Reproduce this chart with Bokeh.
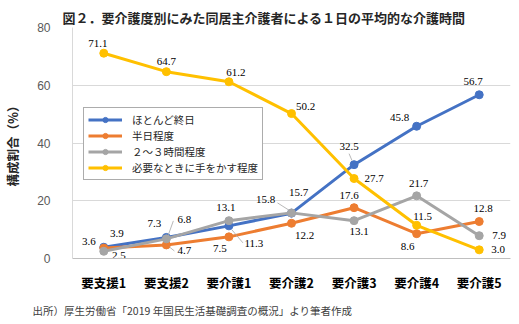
from bokeh.plotting import figure
from bokeh.models import ColumnDataSource, Range1d, FixedTicker, Legend, LegendItem, Title
from bokeh.core.properties import value
from bokeh.embed import file_html
from bokeh.resources import INLINE

# ---- data ----
categories = ["要支援1", "要支援2", "要介護1", "要介護2", "要介護3", "要介護4", "要介護5"]
series_names = ["ほとんど終日", "半日程度", "２～３時間程度", "必要なときに手をかす程度"]
allday = [3.9, 7.3, 11.3, 15.7, 32.5, 45.8, 56.7]
halfday = [3.6, 4.7, 7.5, 12.2, 17.6, 8.6, 12.8]
hours23 = [2.5, 6.8, 13.1, 15.8, 13.1, 21.7, 7.9]
as_needed = [71.1, 64.7, 61.2, 50.2, 27.7, 11.5, 3.0]
y_ticks = [0, 20, 40, 60, 80]

title_text = "図２．要介護度別にみた同居主介護者による１日の平均的な介護時間"
y_label = "構成割合（%）"
source_text = "出所）厚生労働省「2019 年国民生活基礎調査の概況」より筆者作成"

# ---- styles ----
colors = ["#4472C4", "#ED7D31", "#A5A5A5", "#FFC000"]
label_dx = [
    [13, -12, 25, 7, -5, -17, -6],
    [-15, 18, -9, 13, -5, -9, 4],
    [15, 18, -3, -26, 5, 2, 20],
    [-6, 0, 7, 14, 20, 6, 19],
]
label_dy = [
    [-14, -14, 18, -21, -18, -9, -13],
    [-7, 6, 12, 12, -12, 13, -13],
    [4, -19, -13, -13, 11, -12, 0],
    [-10, -10, -9, -7, 0, -9, 0],
]
# leader lines: (series index, category index, start px offset, end px offset)
leaders = [
    (0, 2, (3, 4), (14, 17)),
    (1, 1, (3, 2), (8, 6)),
    (2, 1, (2, -4), (7, -18)),
    (2, 3, (-3, -3), (-14, -10)),
    (0, 4, (-2, -4), (-5, -11)),
]
PX_PER_CAT = 438 / 7
PX_PER_UNIT = 231 / 80

series = [allday, halfday, hours23, as_needed]

p = figure(x_range=categories, y_range=Range1d(0, 80),
           frame_width=438, frame_height=231,
           output_backend="svg", toolbar_location=None,
           min_border_left=62, min_border_right=19,
           min_border_top=27, min_border_bottom=66)

p.title.text = title_text
p.title.text_font = "Noto Sans CJK JP"
p.title.text_font_size = "13px"
p.title.text_font_style = "bold"
p.title.text_color = "#262626"
p.title.align = "left"
p.title.offset = -10
p.title.standoff = 2

p.outline_line_color = None
p.xgrid.grid_line_color = None
p.ygrid.grid_line_color = "#d9d9d9"
p.ygrid.ticker = FixedTicker(ticks=y_ticks)

p.yaxis.ticker = FixedTicker(ticks=y_ticks)
p.yaxis.major_tick_line_color = None
p.yaxis.minor_tick_line_color = None
p.yaxis.axis_line_color = "#d9d9d9"
p.yaxis.major_label_text_font = "Liberation Sans"
p.yaxis.major_label_text_font_size = "12px"
p.yaxis.major_label_text_color = "#595959"
p.yaxis.major_label_standoff = 16
p.yaxis.axis_label = y_label
p.yaxis.axis_label_text_font = "Noto Sans CJK JP"
p.yaxis.axis_label_text_font_size = "12.5px"
p.yaxis.axis_label_text_font_style = "bold"
p.yaxis.axis_label_text_color = "#262626"
p.yaxis.axis_label_standoff = 12

p.xaxis.major_tick_line_color = None
p.xaxis.minor_tick_line_color = None
p.xaxis.axis_line_color = "#bfbfbf"
p.xaxis.major_label_text_font = "Noto Sans CJK JP"
p.xaxis.major_label_text_font_size = "12.5px"
p.xaxis.major_label_text_font_style = "bold"
p.xaxis.major_label_text_color = "#000000"
p.xaxis.major_label_standoff = 8

items = []
for name, vals, col in zip(series_names, series, colors):
    src = ColumnDataSource(dict(x=categories, y=vals))
    ln = p.line("x", "y", source=src, line_color=col, line_width=3)
    sc = p.scatter("x", "y", source=src, size=8, fill_color=col, line_color=col)
    items.append(LegendItem(label=name, renderers=[ln, sc]))

# leader lines (synthetic categorical coordinates: index + 0.5)
x0s, y0s, x1s, y1s = [], [], [], []
for si, ci, (sx, sy), (ex, ey) in leaders:
    v = series[si][ci]
    x0s.append(ci + 0.5 + sx / PX_PER_CAT); y0s.append(v - sy / PX_PER_UNIT)
    x1s.append(ci + 0.5 + ex / PX_PER_CAT); y1s.append(v - ey / PX_PER_UNIT)
p.segment(x0=x0s, y0=y0s, x1=x1s, y1=y1s, line_color="#a6a6a6", line_width=0.8)

# data labels
lx, ly, lt, ldx, ldy = [], [], [], [], []
for vals, dxs, dys in zip(series, label_dx, label_dy):
    for c, v, dx, dy in zip(categories, vals, dxs, dys):
        lx.append(c); ly.append(v); lt.append(f"{v:.1f}")
        ldx.append(dx); ldy.append(dy)
lsrc = ColumnDataSource(dict(x=lx, y=ly, t=lt, dx=ldx, dy=ldy))
p.text("x", "y", text="t", source=lsrc, x_offset="dx", y_offset="dy",
       text_font=value("Liberation Serif"), text_font_size="11px",
       text_color="#000000", text_align="center", text_baseline="middle")

legend = Legend(items=items, location=(11, 78))
legend.border_line_color = "#595959"
legend.border_line_width = 1
legend.background_fill_alpha = 1
legend.label_text_font = "Noto Sans CJK JP"
legend.label_text_font_size = "10.5px"
legend.label_text_color = "#262626"
legend.glyph_width = 34
legend.glyph_height = 13
legend.label_height = 13
legend.spacing = 1
legend.padding = 4
legend.margin = 0
legend.label_standoff = 10
p.add_layout(legend)

foot = Title(text=source_text, align="left", offset=-40,
             text_font="Noto Sans CJK JP", text_font_size="10.5px",
             text_font_style="normal", text_color="#404040", standoff=12)
p.add_layout(foot, "below")

open("out.html", "w").write(file_html(p, INLINE))
